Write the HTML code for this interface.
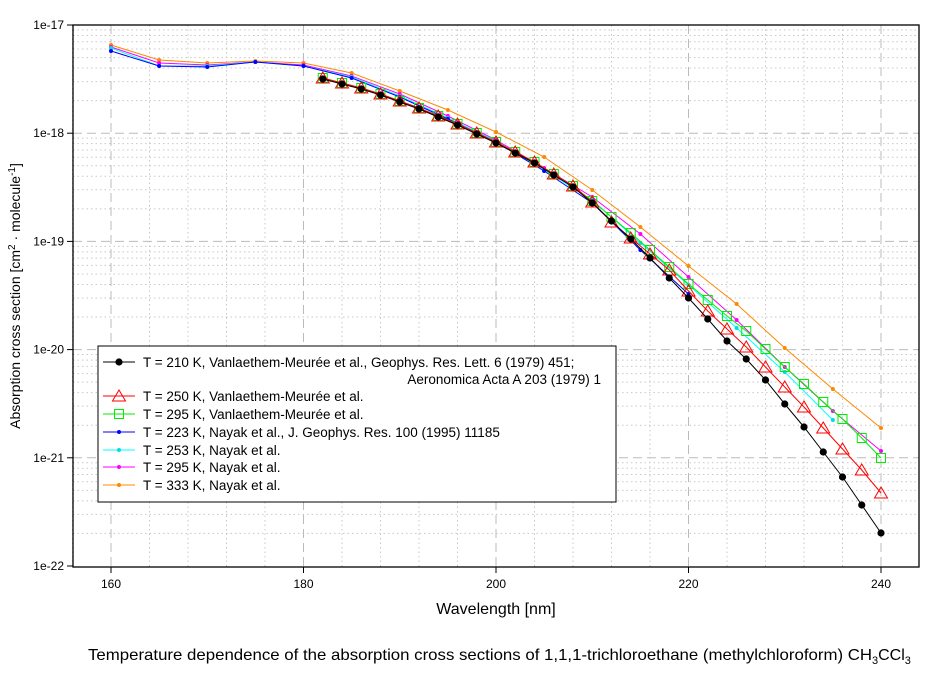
<!DOCTYPE html><html><head><meta charset="utf-8"><style>
body{margin:0;background:#fff;width:944px;height:672px;overflow:hidden;font-family:"Liberation Sans",sans-serif}
svg text{font-family:"Liberation Sans",sans-serif}
</style></head><body>
<svg id="s" width="944" height="672" xmlns="http://www.w3.org/2000/svg"></svg>
<script>
const s=document.getElementById('s');let h='';
const X=n=>111+(n-160)*9.625, Y=l=>25+(-17-l)*108.2;
for(let d=0;d<5;d++){for(let k=2;k<=9;k++){let y=Y(-17-d-1+Math.log10(k));h+=`<line x1="73" x2="919" y1="${y}" y2="${y}" stroke="#c8c8c8" stroke-dasharray="1.5,3"/>`;}}
for(let n=156;n<=236;n+=4){if((n-160)%20==0)continue;h+=`<line y1="25" y2="567" x1="${X(n)}" x2="${X(n)}" stroke="#c8c8c8" stroke-dasharray="1.5,3"/>`;}
for(let d=1;d<5;d++){let y=Y(-17-d);h+=`<line x1="73" x2="919" y1="${y}" y2="${y}" stroke="#bbb" stroke-dasharray="9,5"/>`;}
for(let n=160;n<=240;n+=20){h+=`<line y1="25" y2="567" x1="${X(n)}" x2="${X(n)}" stroke="#bbb" stroke-dasharray="9,5"/>`;}
h+=`<rect x="73" y="25" width="846" height="542" fill="none" stroke="#000" stroke-width="1.3"/>`;
['1e-17','1e-18','1e-19','1e-20','1e-21','1e-22'].forEach((t,i)=>{let y=Y(-17-i);h+=`<line x1="67" x2="73" y1="${y}" y2="${y}" stroke="#000"/><text x="64" y="${y+4}" font-size="12" text-anchor="end">${t}</text>`;});
[160,180,200,220,240].forEach(n=>{h+=`<line x1="${X(n)}" x2="${X(n)}" y1="567" y2="573" stroke="#000"/><text x="${X(n)}" y="588" font-size="12" text-anchor="middle">${n}</text>`;});
h+=`<text x="496" y="614" font-size="16" text-anchor="middle">Wavelength [nm]</text>`;
h+=`<text transform="translate(20,296) rotate(-90)" font-size="14" text-anchor="middle">Absorption cross section [cm<tspan dy="-5" font-size="10">2</tspan><tspan dy="5"> · molecule</tspan><tspan dy="-5" font-size="10">-1</tspan><tspan dy="5">]</tspan></text>`;
h+=`<text x="88" y="660" font-size="16"><tspan textLength="784" lengthAdjust="spacingAndGlyphs">Temperature dependence of the absorption cross sections of 1,1,1-trichloroethane (methylchloroform) CH</tspan><tspan dy="4" font-size="11">3</tspan><tspan dy="-4">CCl</tspan><tspan dy="4" font-size="11">3</tspan></text>`;
const V=(xs,ys)=>xs.map((x,i)=>[X(x),ys[i]]);
const e2=[];for(let n=182;n<=240;n+=2)e2.push(n);
const blk=[79,84,89,95,102,109,117,125,134,143,153,163,175,187,203,221,239,258,278,298,319,341,359,380,404,427,452,477,505,533];
const red=blk.slice(0,15).map(v=>v-1).concat([222,238,254,270,291,311,329,347,367,387,407,428,449,470,493]);
const grn=blk.slice(0,13).map(v=>v-1).concat([186,201,217,233,250,267,284,300,316,331,349,367,384,402,419,438,458]);
const n5=[160,165,170,175,180,185,190,195,200,205,210,215,220,225,230,235,240];
const org=[45,60,63,61,63,73,91,110,132,157,190,227,266,304,348,389,428];
const mag=[47,63,65,62,65,76,94,116,140,168,197,234,277,320,367,411,451];
const cya=[48,66,66,62,66,77,96,118,141,170,200,243,285,328,372,420];
const blu=[51,66,67,62,66,78,97,119,142,171,203,250,294];
function series(pts,col,mk,w){h+=`<polyline points="${pts.map(p=>p.join(',')).join(' ')}" fill="none" stroke="${col}" stroke-width="${w||1}"/>`;pts.forEach(([x,y])=>h+=mk(x,y));}
const dot=(c,r)=>(x,y)=>`<circle cx="${x}" cy="${y}" r="${r}" fill="${c}"/>`;
const tri=(x,y)=>`<polygon points="${x},${y-6} ${x-6.5},${y+5} ${x+6.5},${y+5}" fill="none" stroke="#f00"/>`;
const sq=(x,y)=>`<rect x="${x-4.5}" y="${y-4.5}" width="9" height="9" fill="none" stroke="#0e0"/>`;
series(V(n5,org),'#f80',dot('#f80',2));
series(V(n5,mag),'#f0f',dot('#f0f',2));
series(V(n5.slice(0,16),cya),'#0ff',dot('#0dd',2));
series(V(n5.slice(0,13),blu),'#00f',dot('#00f',2));
series(V(e2,grn),'#0e0',sq);
series(V(e2,red),'#f00',tri);
series(V(e2,blk),'#000',dot('#000',3.6));
h+=`<rect x="98" y="346" width="518" height="156" fill="#fff" stroke="#000"/>`;
const L=[['#000',dot('#000',3.6),362,'T = 210 K, Vanlaethem-Meurée et al., Geophys. Res. Lett. 6 (1979) 451;'],['#f00',tri,396,'T = 250 K, Vanlaethem-Meurée et al.'],['#0e0',sq,414,'T = 295 K, Vanlaethem-Meurée et al.'],['#00f',dot('#00f',2),432,'T = 223 K, Nayak et al., J. Geophys. Res. 100 (1995) 11185'],['#0ff',dot('#0dd',2),450,'T = 253 K, Nayak et al.'],['#f0f',dot('#f0f',2),467,'T = 295 K, Nayak et al.'],['#f80',dot('#f80',2),485,'T = 333 K, Nayak et al.']];
L.forEach(([c,m,y,t])=>{h+=`<line x1="103" x2="135" y1="${y}" y2="${y}" stroke="${c}"/>`+m(119,y)+`<text x="143" y="${y+5}" font-size="13.5">${t}</text>`;});
h+=`<text x="601" y="384" font-size="13.5" text-anchor="end">Aeronomica Acta A 203 (1979) 1</text>`;
s.innerHTML=h;
</script></body></html>
